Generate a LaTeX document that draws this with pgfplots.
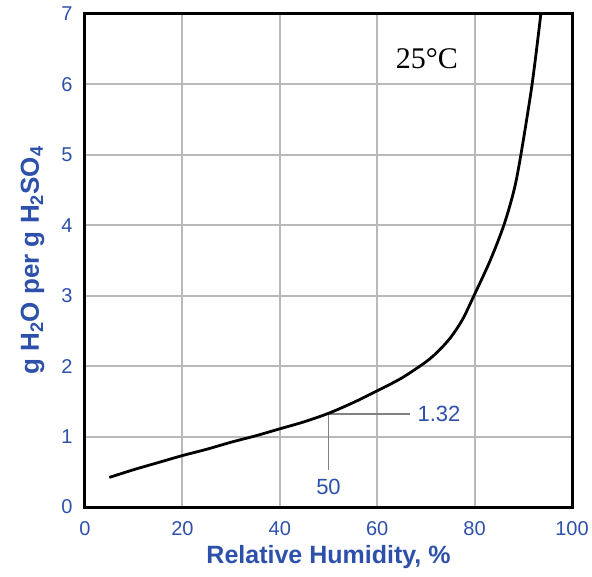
\documentclass[border=0pt]{standalone}
\usepackage{fontspec}
\setmainfont{Liberation Sans}
\newfontfamily\serif{Liberation Serif}
\usepackage{pgfplots}
\pgfplotsset{compat=1.18}
\definecolor{lblue}{RGB}{45,80,170}
\definecolor{gridgray}{RGB}{185,185,185}
\definecolor{anngray}{RGB}{130,130,130}
\begin{document}
\begin{tikzpicture}
\path[use as bounding box] (-85pt,-69pt) rectangle (507pt,507pt);
\begin{axis}[
  at={(0,0)}, anchor=south west,
  scale only axis, width=487pt, height=493pt,
  xmin=0, xmax=100, ymin=0, ymax=7,
  xtick={0,20,40,60,80,100}, ytick={0,1,2,3,4,5,6,7},
  grid=major, major grid style={draw=gridgray, line width=2pt},
  major tick length=0pt,
  axis line style={line width=3pt},
  /pgf/number format/assume math mode=true,
  ticklabel style={font=\fontsize{20}{20}\selectfont, text=lblue},
  xticklabel style={yshift=-11pt},
  yticklabel style={xshift=-9pt},
  xlabel={\textbf{Relative Humidity, \%}},
  ylabel={\textbf{g H\textsubscript{2}O per g H\textsubscript{2}SO\textsubscript{4}}},
  label style={font=\fontsize{25}{25}\selectfont, text=lblue},
  xlabel style={yshift=-3pt},
  ylabel style={font=\fontsize{26}{26}\selectfont, yshift=10pt},
  clip=false,
]
\addplot[anngray, line width=2.5pt] coordinates {(50,1.32) (66.8,1.32)};
\addplot[anngray, line width=1.3pt] coordinates {(50,1.32) (50,0.53)};
\addplot[black, line width=2.8pt, smooth] coordinates {
(5,0.42) (10,0.53) (15,0.63) (20,0.73) (25,0.82) (30,0.92) (35,1.01)
(40,1.11) (45,1.21) (50,1.33) (55,1.48) (60,1.65) (65,1.83) (70,2.06)
(72.5,2.21) (75,2.40) (77.5,2.66) (80,3.02) (83.2,3.5) (86,4.0) (88.1,4.5) (89.5,5.0) (91.8,6.0) (93.6,7.0)
};
\node[text=lblue, font=\fontsize{22}{22}\selectfont] at (axis cs:72.7,1.32) {1.32};
\node[text=lblue, font=\fontsize{22}{22}\selectfont] at (axis cs:50,0.29) {50};
\node[font=\serif\fontsize{30}{30}\selectfont] at (axis cs:70.2,6.37) {25°C};
\end{axis}
\end{tikzpicture}
\end{document}
